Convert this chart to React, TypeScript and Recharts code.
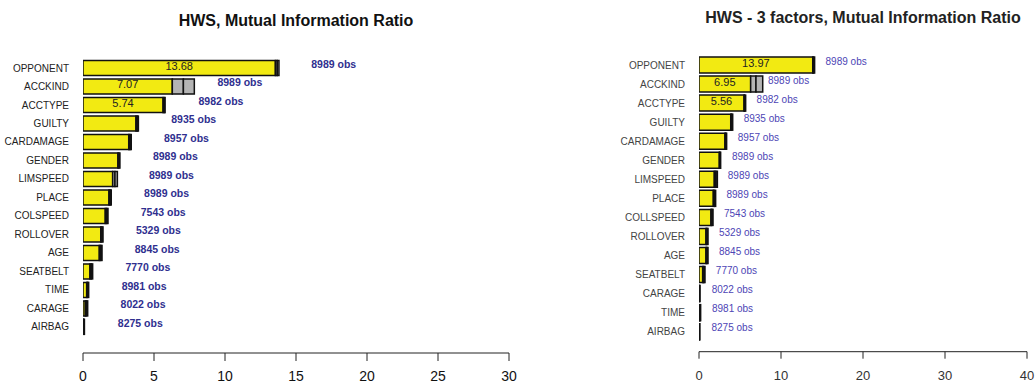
import { BarChart, Bar, XAxis, YAxis, LabelList } from 'recharts';

// left panel: HWS
const leftCategories = ['OPPONENT', 'ACCKIND', 'ACCTYPE', 'GUILTY', 'CARDAMAGE', 'GENDER', 'LIMSPEED', 'PLACE', 'COLSPEED', 'ROLLOVER', 'AGE', 'SEATBELT', 'TIME', 'CARAGE', 'AIRBAG'];
const leftValues = [13.68, 7.07, 5.74, 3.82, 3.31, 2.53, 2.25, 1.91, 1.67, 1.33, 1.25, 0.59, 0.33, 0.25, 0.06];
const leftLower = [13.55, 6.29, 5.64, 3.73, 3.22, 2.46, 2.09, 1.83, 1.57, 1.25, 1.15, 0.49, 0.26, 0.16, 0.02];
const leftUpper = [13.8, 7.84, 5.78, 3.9, 3.4, 2.6, 2.42, 1.99, 1.76, 1.41, 1.34, 0.68, 0.4, 0.33, 0.1];
const leftObs = [8989, 8989, 8982, 8935, 8957, 8989, 8989, 8989, 7543, 5329, 8845, 7770, 8981, 8022, 8275];
const leftShown = ['13.68', '7.07', '5.74'];
const leftTicks = [0, 5, 10, 15, 20, 25, 30];

// right panel: HWS - 3 factors
const rightCategories = ['OPPONENT', 'ACCKIND', 'ACCTYPE', 'GUILTY', 'CARDAMAGE', 'GENDER', 'LIMSPEED', 'PLACE', 'COLLSPEED', 'ROLLOVER', 'AGE', 'SEATBELT', 'CARAGE', 'TIME', 'AIRBAG'];
const rightValues = [13.97, 6.95, 5.56, 3.98, 3.27, 2.56, 2.05, 1.89, 1.58, 0.97, 0.97, 0.59, 0.08, 0.12, 0.06];
const rightLower = [13.87, 6.3, 5.5, 3.87, 3.17, 2.48, 1.87, 1.75, 1.46, 0.85, 0.85, 0.45, 0.03, 0.05, 0.02];
const rightUpper = [14.1, 7.77, 5.69, 4.11, 3.37, 2.64, 2.24, 2.03, 1.71, 1.1, 1.1, 0.73, 0.12, 0.2, 0.1];
const rightObs = [8989, 8989, 8982, 8935, 8957, 8989, 8989, 8989, 7543, 5329, 8845, 7770, 8022, 8981, 8275];
const rightShown = ['13.97', '6.95', '5.56'];
const rightTicks = [0, 10, 20, 30, 40];

const FONT = '"Liberation Sans", Arial, sans-serif';
const YELLOW = '#f2ea12';
const GREY = '#b4b4b4';

function buildRows(cats: string[], vals: number[], lo: number[], hi: number[], obs: number[], shown: string[]) {
  return cats.map((name, i) => ({
    name,
    lo: lo[i],
    mid: vals[i] - lo[i],
    hi: hi[i] - vals[i],
    shown: shown[i] || '',
    obs: `${obs[i]} obs`,
  }));
}

const leftData = buildRows(leftCategories, leftValues, leftLower, leftUpper, leftObs, leftShown);
const rightData = buildRows(rightCategories, rightValues, rightLower, rightUpper, rightObs, rightShown);

function Panel({ data, ticks, max, width, yWidth, right, top, bottomPad, axisH, bottom, tickSize, tickMargin, tickFont, tickColor, catColor, obsColor, obsWeight, obsSize, obsOffset, gap }: any) {
  const valueLabel = (p: any) => {
    if (!p.value) return null;
    return (
      <text x={p.x + p.width / 2} y={p.y + p.height / 2 - 1} textAnchor="middle" dominantBaseline="middle" fontSize={11} fill="#222" fontFamily={FONT}>
        {p.value}
      </text>
    );
  };
  const obsLabel = (p: any) => (
    <text x={p.x + p.width + obsOffset} y={p.y + p.height / 2 - 3} dominantBaseline="middle" fontSize={obsSize} fontWeight={obsWeight} fill={obsColor} fontFamily={FONT}>
      {p.value}
    </text>
  );
  return (
    <BarChart width={width} height={385} data={data} layout="vertical" margin={{ top, right, bottom, left: 0 }} barCategoryGap={gap}>
      <XAxis
        type="number"
        domain={[0, max]}
        ticks={ticks}
        allowDataOverflow
        height={axisH}
        stroke="#222"
        tickSize={tickSize}
        tickMargin={tickMargin}
        tick={{ fontSize: tickFont, fill: tickColor, fontFamily: FONT }}
      />
      <YAxis
        type="category"
        dataKey="name"
        width={yWidth}
        axisLine={false}
        tickLine={false}
        tickSize={0}
        tickMargin={14}
        interval={0}
        padding={{ top: 0, bottom: bottomPad }}
        tick={{ fontSize: 10, fill: catColor, fontFamily: FONT }}
      />
      <Bar dataKey="lo" stackId="a" fill={YELLOW} stroke="#111" strokeWidth={1.5} isAnimationActive={false}>
        <LabelList dataKey="shown" content={valueLabel} />
      </Bar>
      <Bar dataKey="mid" stackId="a" fill={GREY} stroke="#111" strokeWidth={1.5} isAnimationActive={false}>
        <LabelList dataKey="obs" content={obsLabel} />
      </Bar>
      <Bar dataKey="hi" stackId="a" fill={GREY} stroke="#111" strokeWidth={1.5} isAnimationActive={false} />
    </BarChart>
  );
}

export default function App() {
  return (
    <div style={{ position: 'absolute', left: 0, top: 0, width: 1036, height: 385, background: '#fff', fontFamily: FONT }}>
      <div style={{ position: 'absolute', left: 83, width: 426, top: 12, textAlign: 'center', fontSize: 16, fontWeight: 'bold', color: '#111' }}>
        HWS, Mutual Information Ratio
      </div>
      <div style={{ position: 'absolute', left: 699, width: 328, top: 9, textAlign: 'center', fontSize: 16, fontWeight: 'bold', color: '#222', whiteSpace: 'nowrap' }}>
        HWS - 3 factors, Mutual Information Ratio
      </div>
      <div style={{ position: 'absolute', left: 0, top: 0 }}>
        <Panel
          data={leftData} ticks={leftTicks} max={30} width={540} yWidth={83} right={31} top={58.75}
          bottomPad={17} axisH={30} bottom={2} tickSize={8} tickMargin={10} tickFont={14} tickColor="#111"
          catColor="#222" obsColor="#2f2f8f" obsWeight="bold" obsSize={10.5} obsOffset={34} gap="10%"
        />
      </div>
      <div style={{ position: 'absolute', left: 540, top: 0 }}>
        <Panel
          data={rightData} ticks={rightTicks} max={40} width={496} yWidth={159} right={9} top={55.5}
          bottomPad={10.5} axisH={31} bottom={2.3} tickSize={7} tickMargin={12} tickFont={13} tickColor="#333"
          catColor="#444" obsColor="#4d45b5" obsWeight="normal" obsSize={10} obsOffset={12} gap="8%"
        />
      </div>
    </div>
  );
}
